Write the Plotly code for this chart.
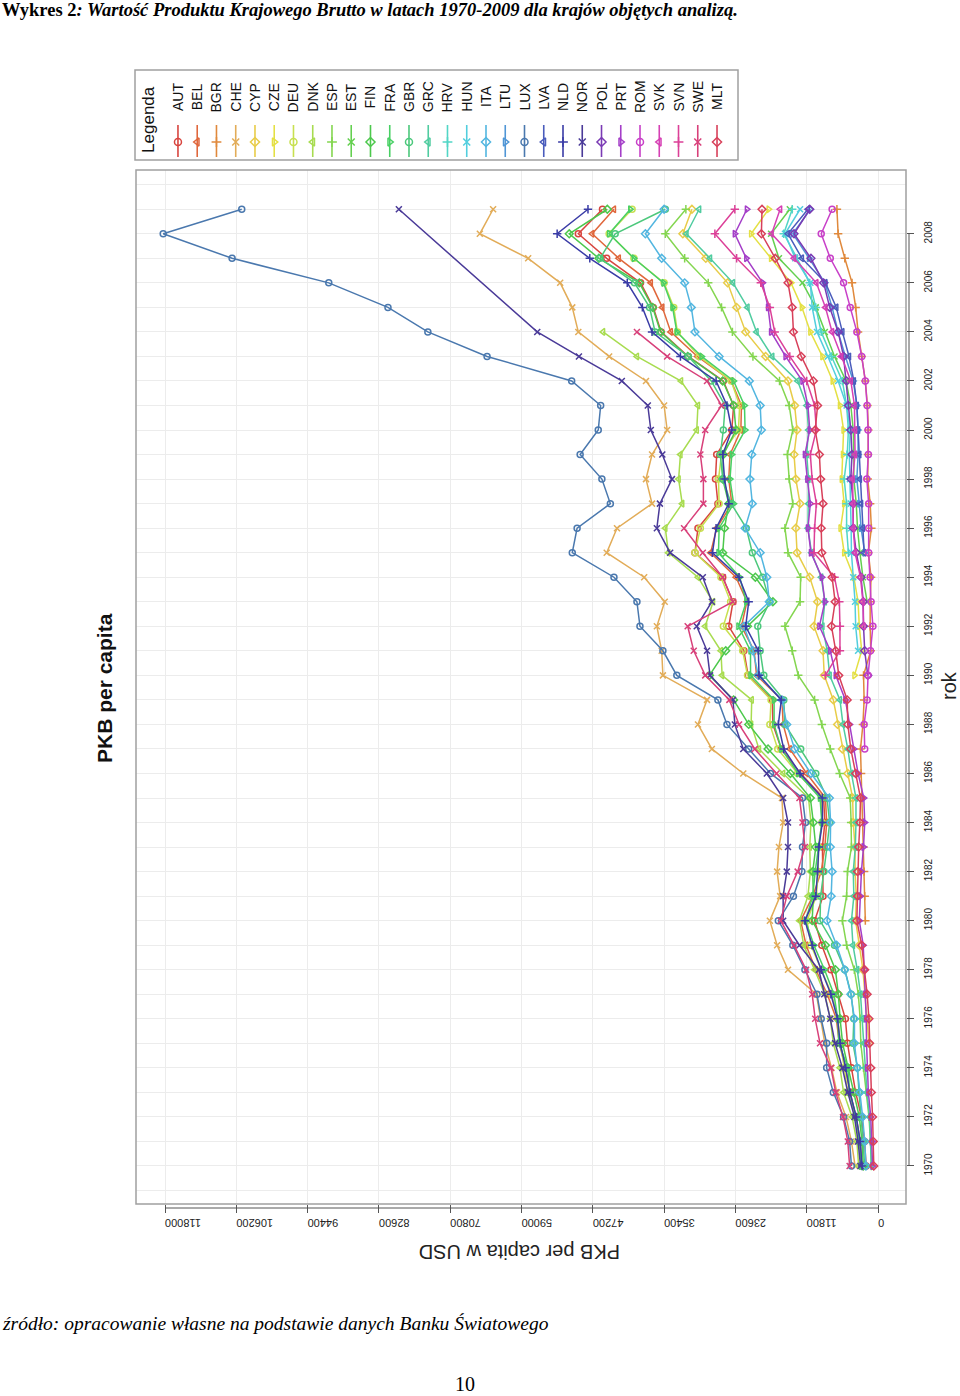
import plotly.graph_objects as go

years = list(range(1970, 2010))

countries = ["AUT", "BEL", "BGR", "CHE", "CYP", "CZE", "DEU", "DNK", "ESP", "EST",
             "FIN", "FRA", "GBR", "GRC", "HRV", "HUN", "ITA", "LTU", "LUX", "LVA",
             "NLD", "NOR", "POL", "PRT", "ROM", "SVK", "SVN", "SWE", "MLT"]

N = None
AUT = [1960, 2230, 2750, 3700, 4400, 5050, 5400, 6600, 7800, 9300,
       10500, 9100, 9100, 9200, 8800, 9000, 12800, 16000, 17400, 17500,
       21500, 22200, 24700, 24000, 25700, 30300, 29800, 26500, 26900, 26700,
       24200, 23900, 25600, 31400, 35900, 37200, 39300, 44900, 49600, 45600]
BEL = [2660, 2930, 3620, 4620, 5400, 6400, 6900, 8400, 10300, 11900,
       12800, 10800, 9400, 8800, 8500, 8700, 11800, 14600, 15700, 15900,
       20100, 20500, 22600, 21700, 23500, 27700, 26700, 24200, 24700, 24500,
       22700, 22600, 24300, 29900, 34300, 35700, 37600, 42900, 47300, 43700]
BGR = [N] * 10 + [2100, 2200, 2300, 2400, 2500, 2600, 2800, 2900, 2500, 2300,
                  2400, 1200, 1300, 1300, 1150, 1600, 1100, 1300, 1700, 1650,
                  1600, 1750, 2100, 2700, 3300, 3700, 4300, 5500, 6600, 6800]
CHE = [3800, 4400, 5300, 6800, 7700, 8800, 9500, 10200, 14900, 16700,
       17900, 16200, 16700, 16400, 15700, 15900, 22300, 27500, 29800, 28300,
       35600, 35800, 36600, 35300, 38700, 44900, 43200, 37400, 38400, 37400,
       34900, 35400, 38400, 44500, 49600, 50600, 52600, 57900, 65900, 63700]
CYP = [N] * 5 + [1500, 1800, 2100, 2500, 3100,
                 3700, 3600, 3800, 3800, 4100, 4200, 5000, 5900, 6700, 7400,
                 8900, 9100, 10600, 10000, 11300, 13400, 13600, 12900, 13600, 13900,
                 13400, 13800, 14900, 18600, 21900, 23400, 24900, 28500, 32300, 30800]
CZE = [N] * 20 + [3900, 2700, 3100, 3300, 4000, 5600, 6200, 5600, 6000, 5800,
                  5700, 6300, 7500, 9200, 11200, 12600, 14400, 17700, 21000, 18100]
DEU = [2750, 3150, 3750, 4980, 5600, 6200, 6650, 7650, 9380, 11100,
       11750, 10200, 9900, 9860, 9280, 9400, 13300, 16600, 17900, 17700,
       21600, 22400, 25600, 24400, 26000, 30300, 29400, 26300, 26400, 25900,
       23100, 22900, 24300, 29600, 33200, 33800, 35400, 40400, 44500, 40700]
DNK = [3200, 3500, 4300, 5700, 6300, 7400, 7900, 8800, 10500, 12300,
       13000, 11600, 11200, 11300, 11100, 11500, 15700, 19700, 21000, 20900,
       25800, 26000, 28600, 27300, 29800, 34700, 35200, 32400, 33000, 32700,
       30000, 29800, 32600, 39900, 45500, N, N, N, N, N]
ESP = [1110, 1240, 1500, 1960, 2400, 2850, 2960, 3260, 3920, 5190,
       5900, 5200, 5050, 4400, 4450, 4600, 6350, 7900, 9300, 10500,
       13200, 14200, 15400, 12900, 12800, 14900, 15400, 14100, 14700, 15000,
       14100, 14700, 16300, 20700, 24100, 25900, 28100, 32000, 35200, 31800]
EST = [N] * 23 + [1800, 2500, 3000, 3400, 3600, 4000, 4000,
                  4100, 4500, 5300, 7200, 8800, 10300, 12500, 16400, 17700, 14600]
FIN = [2440, 2650, 3100, 3980, 4950, 5860, 6280, 6560, 7050, 8700,
       10900, 10700, 10800, 10300, 10700, 11200, 14500, 18200, 21400, 23900,
       27900, 25200, 21600, 17400, 20300, 25700, 25400, 24700, 25700, 25600,
       23500, 23900, 25700, 31500, 36000, 37300, 39500, 46200, 51100, 44800]
FRA = [2800, 3050, 3650, 4700, 4950, 6500, 6650, 7300, 8850, 10600,
       12000, 10800, 10400, 9800, 9300, 9600, 13200, 16000, 17200, 17200,
       21100, 21100, 23100, 21800, 22900, 26400, 26300, 23900, 24500, 24200,
       22000, 22100, 23900, 29200, 33300, 34000, 35500, 40400, 44500, 41000]
GBR = [2200, 2450, 2800, 3150, 3400, 4150, 4000, 4450, 5500, 7200,
       9600, 9500, 8950, 8450, 8000, 8450, 10300, 12800, 15400, 15600,
       18900, 19500, 19900, 17900, 19100, 20800, 21800, 24300, 25700, 26100,
       25600, 25300, 27600, 31400, 36900, 37800, 40300, 46000, 43500, 35200]
GRC = [1100, 1220, 1410, 1830, 2080, 2350, 2590, 2900, 3440, 4150,
       4400, 4000, 4100, 3750, 3650, 3650, 4400, 5000, 5800, 6300,
       8000, 8400, 9200, 8800, 9400, 11000, 11600, 11500, 11500, 11800,
       11500, 11800, 13300, 17500, 20100, 21600, 24000, 27800, 31700, 29600]
HRV = [N] * 25 + [4900, 5200, 5200, 5600, 5100,
                  4900, 5200, 5900, 7700, 9400, 10300, 11300, 13400, 15600, 14200]
HUN = [N] * 21 + [3300, 3700, 3800, 4100, 4400, 4450, 4500, 4650, 4750,
                  4600, 5200, 6600, 8300, 10100, 10900, 11200, 13700, 15400, 12900]
ITA = [2000, 2200, 2550, 3000, 3450, 3900, 3900, 4500, 5500, 6850,
       8450, 7750, 7600, 7900, 7850, 8050, 11100, 13800, 15100, 15900,
       19800, 20700, 22200, 18000, 18400, 19500, 22000, 20800, 21200, 20900,
       19300, 19500, 21300, 26300, 30300, 30900, 32000, 35800, 38500, 35400]
LTU = [N] * 25 + [2200, 2800, 3100, 3500, 3300,
                  3300, 3500, 4100, 5400, 6600, 7600, 8800, 11400, 14100, 11200]
LUX = [4400, 4700, 5700, 7400, 8500, 8500, 9400, 10100, 12100, 14100,
       16500, 14000, 12600, 12500, 12000, 12500, 17800, 21400, 25000, 26500,
       33300, 35600, 39400, 39900, 43700, 50600, 49800, 44300, 45700, 49300,
       46300, 45900, 50700, 64700, 74500, 81100, 90900, 106900, 118300, 105300]
LVA = [N] * 25 + [2300, 2500, 2800, 3000, 3100,
                  3300, 3500, 4000, 4800, 5900, 6900, 8700, 12600, 14900, 11600]
NLD = [2650, 2950, 3600, 4650, 5350, 6250, 6700, 7800, 9400, 10900,
       12100, 10300, 10000, 9800, 9200, 9200, 12900, 15600, 16500, 16000,
       19700, 19800, 21900, 21400, 23000, 27400, 26800, 24700, 25400, 25700,
       24200, 25000, 26800, 32700, 37400, 39000, 41500, 47700, 53100, 48000]
NOR = [2900, 3300, 3900, 5000, 5900, 7100, 7900, 8900, 9800, 13000,
       15700, 15700, 15100, 14900, 14900, 15700, 18400, 22300, 23700, 24000,
       27800, 28300, 30000, 27500, 29000, 34400, 36600, 36100, 34100, 35700,
       37600, 38100, 42400, 49500, 56400, N, N, N, N, 79300]
POL = [N] * 20 + [1700, 2200, 2400, 2450, 2800, 3600, 4100, 4100, 4500, 4300,
                  4500, 4900, 5200, 5700, 6600, 8000, 9000, 11100, 13900, 11300]
PRT = [900, 1000, 1200, 1600, 1800, 1900, 1950, 2100, 2200, 2450,
       3100, 2900, 2750, 2400, 2200, 2350, 3300, 4000, 4700, 5400,
       7000, 7900, 9700, 8800, 9300, 11100, 11600, 11200, 11700, 12100,
       11300, 11600, 12500, 15300, 17700, 18200, 19100, 21800, 23700, 21700]
ROM = [N] * 17 + [2200, 2300, 1800,
                  1650, 1250, 850, 1150, 1300, 1550, 1550, 1550, 1850, 1600,
                  1650, 1800, 2100, 2700, 3500, 4600, 5700, 7900, 9400, 7600]
SVK = [N] * 22 + [2400, 2500, 2900, 3800, 4100, 4100, 4200, 3800,
                  3800, 3900, 4500, 6100, 7600, 8700, 10200, 13900, 17600, 16200]
SVN = [N] * 20 + [8700, 6300, 6300, 6400, 7200, 10600, 10500, 10200, 10900, 11200,
                  10200, 10500, 11800, 14600, 17100, 17900, 19400, 23400, 27000, 23700]
SWE = [4700, 5000, 5800, 7000, 7800, 9600, 10400, 10900, 11900, 13900,
       16100, 15100, 13300, 12100, 12500, 13000, 16800, 20400, 23000, 24600,
       28600, 30500, 31500, 24000, 25700, 29000, 32100, 28900, 28900, 29400,
       28600, 25900, 28300, 34900, 39900, N, N, N, N, N]
MLT = [700, 780, 900, 1100, 1200, 1400, 1500, 1800, 2200, 2700,
       3500, 3400, 3400, 3200, 3000, 2900, 3700, 4500, 5000, 5100,
       6500, 7000, 7700, 7100, 7600, 9300, 9400, 9100, 9500, 9700,
       10400, 10000, 10700, 12700, 14000, 14200, 14900, 17000, 19300, 19200]

series = [AUT, BEL, BGR, CHE, CYP, CZE, DEU, DNK, ESP, EST, FIN, FRA, GBR, GRC,
          HRV, HUN, ITA, LTU, LUX, LVA, NLD, NOR, POL, PRT, ROM, SVK, SVN, SWE, MLT]

colors = ["#d8453f", "#e0673c", "#e0893c", "#e2ac58", "#e8cc48", "#e4e044", "#c8e050",
          "#a8dc50", "#84d650", "#64d050", "#4cc84c", "#48d064", "#4cc87c", "#50cca0",
          "#52d6c6", "#52cede", "#52b6e0", "#5096d6", "#4a78ae", "#4a5cbc", "#3a3ca6",
          "#4a3a98", "#7a3ab4", "#a43ec8", "#c840c8", "#d640b4", "#dc4098", "#d8407a",
          "#d8405a"]
symbols = ["circle-open", "triangle-left-open", "cross-thin-open", "x-thin-open",
           "diamond-open", "triangle-right-open"]

xticks = [0, 11800, 23600, 35400, 47200, 59000, 70800, 82600, 94400, 106200, 118000]
yticks = list(range(1970, 2009, 2))

W, H = 960, 1396
def px(x):
    return x / W
def py(y):
    return 1 - y / H

fig = go.Figure()

for i, (name, vals) in enumerate(zip(countries, series)):
    c = colors[i]
    fig.add_trace(go.Scatter(
        x=vals, y=years, mode="lines+markers", name=name,
        connectgaps=(name == "NOR"),
        line=dict(color=c, width=1.5),
        marker=dict(symbol=symbols[i % 6], size=6, color=c, line=dict(color=c, width=1.5)),
        xaxis="x", yaxis="y"))

# legend samples
for i, name in enumerate(countries):
    c = colors[i]
    fig.add_trace(go.Scatter(x=[i, i], y=[3, 35], mode="lines", line=dict(color=c, width=1.6),
                             xaxis="x2", yaxis="y2", hoverinfo="skip"))
    fig.add_trace(go.Scatter(x=[i], y=[18], mode="markers",
                             marker=dict(symbol=symbols[i % 6], size=7, color=c,
                                         line=dict(color=c, width=1.5)),
                             xaxis="x2", yaxis="y2", hoverinfo="skip"))

ann = []
for i, name in enumerate(countries):
    ann.append(dict(x=i, y=63, xref="x2", yref="y2", text=name, showarrow=False,
                    textangle=-90, xanchor="center", yanchor="middle",
                    font=dict(family="Liberation Sans, Arial", size=14, color="#111")))
ann.append(dict(x=-1.56, y=41, xref="x2", yref="y2", text="Legenda", showarrow=False,
                textangle=-90, xanchor="center", yanchor="middle",
                font=dict(family="Liberation Sans, Arial", size=17, color="#111")))

ann.append(dict(x=px(520), y=py(1252), xref="paper", yref="paper", text="PKB per capita w USD",
                showarrow=False, textangle=180, xanchor="center", yanchor="middle",
                font=dict(family="Liberation Sans, Arial", size=20, color="#222")))
ann.append(dict(x=px(949), y=py(686), xref="paper", yref="paper", text="rok",
                showarrow=False, textangle=-90, xanchor="center", yanchor="middle",
                font=dict(family="Liberation Sans, Arial", size=20, color="#222")))
ann.append(dict(x=px(104), y=py(688), xref="paper", yref="paper", text="<b>PKB per capita</b>",
                showarrow=False, textangle=-90, xanchor="center", yanchor="middle",
                font=dict(family="Liberation Sans, Arial", size=21, color="#111")))

ann.append(dict(x=0, y=py(10), xref="paper", yref="paper", xanchor="left", yanchor="middle",
                text="<b>Wykres 2</b><b><i>: Wartość Produktu Krajowego Brutto w latach 1970-2009 dla krajów objętych analizą.</i></b>",
                showarrow=False, font=dict(family="Liberation Serif, Times New Roman", size=18.5, color="#000")))
ann.append(dict(x=0, y=py(1323), xref="paper", yref="paper", xanchor="left", yanchor="middle",
                text="<i>źródło: opracowanie własne na podstawie danych Banku Światowego</i>",
                showarrow=False, font=dict(family="Liberation Serif, Times New Roman", size=19.5, color="#000")))
ann.append(dict(x=px(465), y=py(1384), xref="paper", yref="paper", xanchor="center", yanchor="middle",
                text="10", showarrow=False,
                font=dict(family="Liberation Serif, Times New Roman", size=20, color="#000")))

shapes = [
    dict(type="rect", xref="paper", yref="paper", x0=px(136), x1=px(906), y0=py(1204), y1=py(170),
         line=dict(color="#a0a0a0", width=1.5)),
    dict(type="rect", xref="paper", yref="paper", x0=px(135), x1=px(738), y0=py(160), y1=py(70),
         line=dict(color="#a0a0a0", width=1.5)),
    dict(type="line", xref="x", yref="paper", x0=0, x1=118000, y0=py(1208), y1=py(1208),
         line=dict(color="#555", width=1)),
    dict(type="line", xref="paper", yref="y", x0=px(909), x1=px(909), y0=1970, y1=2008,
         line=dict(color="#555", width=1)),
]

fig.update_layout(
    width=W, height=H, margin=dict(l=0, r=0, t=0, b=0),
    paper_bgcolor="white", plot_bgcolor="white", showlegend=False,
    xaxis=dict(domain=[px(136), px(906)], range=[122800, -4630], tickmode="array",
               tickvals=xticks, ticktext=[str(v) for v in xticks], tickangle=180,
               ticks="outside", ticklen=8, tickcolor="#555", showgrid=True,
               ticklabelstandoff=4,
               gridcolor="#ececec", gridwidth=1, zeroline=False, showline=False,
               tickfont=dict(family="Liberation Sans, Arial", size=11, color="#222")),
    yaxis=dict(domain=[py(1204), py(170)], range=[1968.45, 2010.6], side="right",
               anchor="x", tickmode="array", tickvals=yticks, ticktext=[str(v) for v in yticks],
               tickangle=-90, ticks="outside", ticklen=7, tickcolor="#555",
               ticklabelstandoff=6,
               showgrid=True, gridcolor="#ececec", zeroline=False, showline=False,
               minor=dict(tick0=1970, dtick=1, showgrid=True, gridcolor="#ececec", ticks=""),
               tickfont=dict(family="Liberation Sans, Arial", size=10, color="#222")),
    xaxis2=dict(domain=[px(136), px(738)], range=[-2.18, 29.09], visible=False, anchor="y2"),
    yaxis2=dict(domain=[py(160), py(70)], range=[0, 90], visible=False, anchor="x2"),
    annotations=ann, shapes=shapes,
)

fig.write_html("out.html", config={"displayModeBar": False},
               post_script="document.body.style.margin='0px';")
